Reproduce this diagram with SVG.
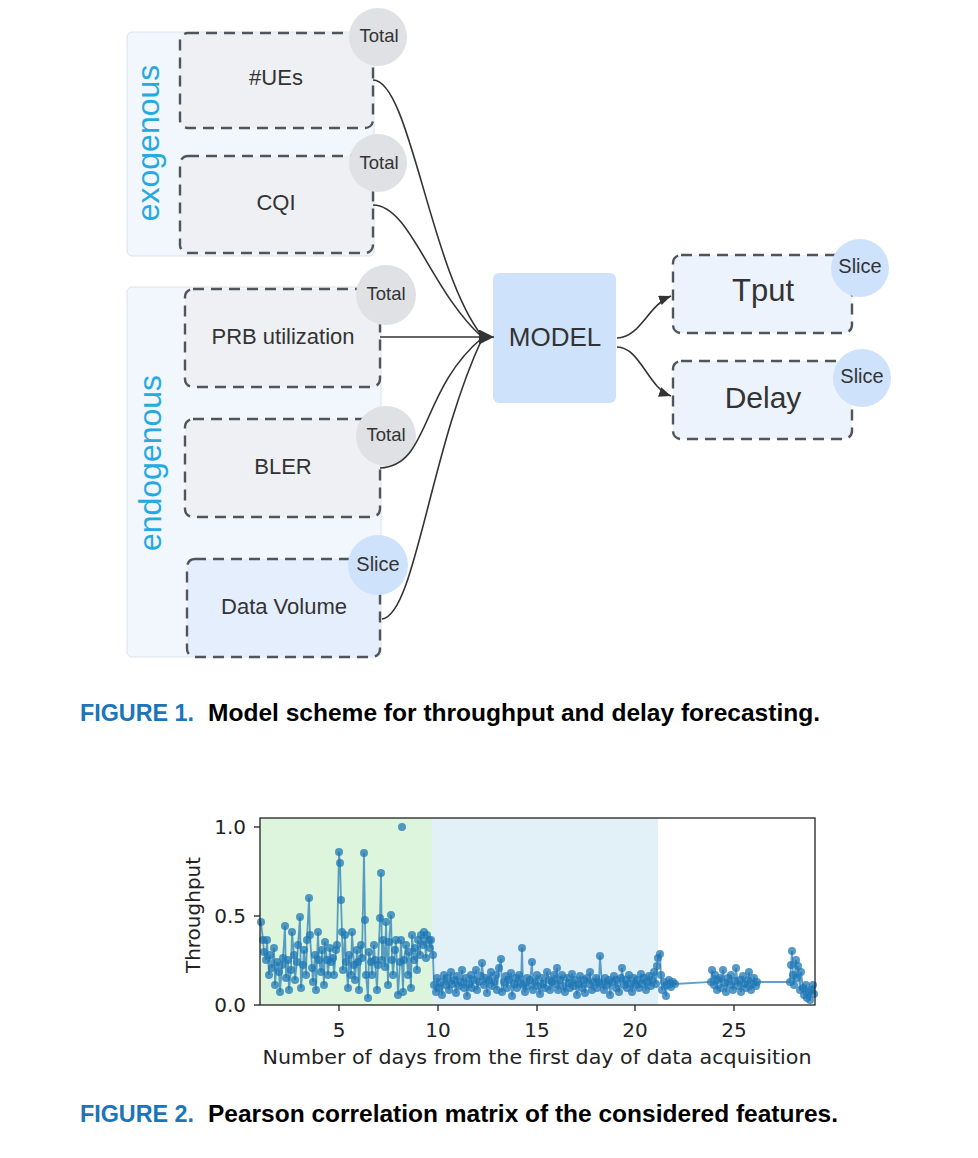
<svg xmlns="http://www.w3.org/2000/svg" width="978" height="1158" viewBox="0 0 978 1158">
<style>
.grp{fill:#f2f6fd;stroke:#dce3ec;stroke-width:1}
.box{stroke:#50545c;stroke-width:2.4;stroke-dasharray:11 7}
.gray{fill:#eef0f4}
.blue{fill:#e5eefc}
.out{fill:#edf3fd}
.tot{fill:#dfe1e5}
.sl{fill:#cfe2fc}
.lbl{font-family:"Liberation Sans",Arial,sans-serif;fill:#333;text-anchor:middle}
.big{font-family:"Liberation Sans",Arial,sans-serif;fill:#26a9e0;text-anchor:middle;font-size:32px}
.con{fill:none;stroke:#333;stroke-width:1.6}
.tk{font-family:"DejaVu Sans",sans-serif;fill:#222;font-size:20px}
.cap{font-family:"Liberation Sans",Arial,sans-serif;font-weight:bold;font-size:24px}
</style>
<defs>
<marker id="ah" markerUnits="userSpaceOnUse" markerWidth="14" markerHeight="12" refX="12" refY="5" orient="auto"><path d="M0,0 L12,5 L0,10 z" fill="#333"/></marker>
<marker id="ahb" markerUnits="userSpaceOnUse" markerWidth="16" markerHeight="16" refX="15" refY="7.5" orient="auto"><path d="M0,0 L15,7.5 L0,15 z" fill="#333"/></marker>
<marker id="dot" markerUnits="userSpaceOnUse" markerWidth="10" markerHeight="10" refX="5" refY="5"><circle cx="5" cy="5" r="4" fill="#1f77b4" fill-opacity="0.75"/></marker>
</defs>
<rect width="978" height="1158" fill="#fff"/>

<g id="exogenous-group">
<rect class="grp" x="127" y="32" width="247" height="224" rx="5"/>
<text class="big" transform="translate(159,143) rotate(-90)">exogenous</text>
</g>
<g id="endogenous-group">
<rect class="grp" x="127" y="287" width="254" height="370" rx="5"/>
<text class="big" transform="translate(161,463) rotate(-90)">endogenous</text>
</g>

<g id="node-ues">
<rect class="box gray" x="180" y="33" width="193" height="95" rx="8"/>
<text class="lbl" x="276" y="85" font-size="22">#UEs</text>
<circle class="tot" cx="378" cy="37" r="29"/>
<text class="lbl" x="379" y="42" font-size="18.5">Total</text>
</g>
<g id="node-cqi">
<rect class="box gray" x="180" y="156" width="193" height="97" rx="8"/>
<text class="lbl" x="276" y="210" font-size="22">CQI</text>
<circle class="tot" cx="378" cy="163" r="29"/>
<text class="lbl" x="379" y="169" font-size="18.5">Total</text>
</g>
<g id="node-prb">
<rect class="box gray" x="185" y="289" width="195" height="98" rx="8"/>
<text class="lbl" x="283" y="344" font-size="22">PRB utilization</text>
<circle class="tot" cx="386" cy="295" r="30"/>
<text class="lbl" x="386" y="300" font-size="18.5">Total</text>
</g>
<g id="node-bler">
<rect class="box gray" x="185" y="419" width="195" height="98" rx="8"/>
<text class="lbl" x="283" y="474" font-size="22">BLER</text>
<circle class="tot" cx="386" cy="436" r="30"/>
<text class="lbl" x="386" y="441" font-size="18.5">Total</text>
</g>
<g id="node-datavolume">
<rect class="box blue" x="187" y="559" width="193" height="98" rx="8"/>
<text class="lbl" x="284" y="614" font-size="22">Data Volume</text>
<circle class="sl" cx="378" cy="565" r="30"/>
<text class="lbl" x="378" y="571" font-size="20">Slice</text>
</g>

<g id="node-model">
<rect x="493" y="273" width="123" height="130" rx="6" fill="#cfe2fc"/>
<text class="lbl" x="555" y="346" font-size="26">MODEL</text>
</g>
<g id="node-tput">
<rect class="box out" x="673" y="255" width="179" height="78" rx="8"/>
<text class="lbl" x="763" y="301" font-size="31">Tput</text>
<circle class="sl" cx="860" cy="268" r="29"/>
<text class="lbl" x="860" y="273" font-size="20">Slice</text>
</g>
<g id="node-delay">
<rect class="box out" x="673" y="361" width="179" height="78" rx="8"/>
<text class="lbl" x="763" y="408" font-size="30">Delay</text>
<circle class="sl" cx="862" cy="378" r="29"/>
<text class="lbl" x="862" y="383" font-size="20">Slice</text>
</g>

<g id="connectors">
<path class="con" d="M373,80 C410,80 430,270 482,336"/>
<path class="con" d="M373,205 C410,205 430,290 482,337"/>
<path class="con" d="M380,468 C430,466 420,390 482,338"/>
<path class="con" d="M382,619 C415,615 430,450 482,339"/>
<path class="con" d="M380,337 L494,337" marker-end="url(#ahb)"/>
<path class="con" d="M617,338 C640,338 648,305 671,296" marker-end="url(#ah)"/>
<path class="con" d="M617,347 C640,347 648,388 671,396" marker-end="url(#ah)"/>
</g>

<g id="caption1">
<text class="cap" x="80" y="721" fill="#1b75bb" textLength="114" lengthAdjust="spacingAndGlyphs">FIGURE 1.</text>
<text class="cap" x="208" y="721" fill="#000" textLength="612" lengthAdjust="spacingAndGlyphs">Model scheme for throughput and delay forecasting.</text>
</g>

<g id="chart">
<rect x="260" y="818" width="172" height="187" fill="#dcf5dc"/>
<rect x="432" y="818" width="226" height="187" fill="#e2f0f7"/>
<polyline fill="none" stroke="#1f77b4" stroke-opacity="0.7" stroke-width="1.8" marker-start="url(#dot)" marker-mid="url(#dot)" marker-end="url(#dot)" points="261,922 263,940 264,952 266,960 267,940 269,975 270,955 272,968 274,948 275,985 277,962 279,972 280,992 282,965 283,958 285,926 286,978 288,960 289,990 291,970 292,932 294,955 295,980 297,962 298,945 300,917 301,988 303,965 304,950 306,975 307,940 309,898 310,935 312,968 313,982 315,955 316,990 318,932 319,960 321,972 322,950 324,985 325,942 327,960 328,975 330,948 331,962 333,958 334,975 336,950 337,945 339,852 340,863 341,900 342,932 343,970 345,935 346,962 348,988 349,955 351,975 352,932 354,965 355,980 357,950 358,962 359,990 361,945 362,958 364,853 365,920 366,975 368,998 369,952 371,962 372,975 374,945 375,960 377,990 378,965 380,918 381,873 382,960 383,940 385,967 386,922 388,985 389,942 391,915 392,960 393,975 395,950 396,940 398,995 400,962 401,940 403,992 404,960 406,945 408,975 409,952 411,988 412,935 414,960 415,948 417,970 418,940 420,955 421,935 423,945 424,932 426,958 427,935 429,940 430,948 431,940 433,955 434,985 436,992 437,978 439,988 441,982 442,995 444,975 446,985 447,978 449,990 451,972 452,984 454,980 456,993 457,976 459,986 461,982 462,970 464,988 466,978 467,996 469,984 471,975 472,988 474,980 476,970 477,990 479,982 481,976 482,963 484,985 486,978 487,993 489,980 491,972 492,986 494,982 496,975 497,990 499,968 501,959 502,992 504,982 506,976 507,988 509,980 511,973 512,996 514,984 516,978 517,988 519,975 521,983 522,948 523,985 525,992 527,978 528,986 530,980 532,962 533,990 535,982 537,975 538,986 540,994 542,978 543,984 545,988 547,972 549,980 550,990 552,982 554,975 555,984 557,968 558,990 560,980 562,975 563,986 565,992 567,978 569,983 570,988 572,974 574,986 575,980 577,995 579,984 580,976 582,988 584,980 585,993 587,978 589,984 590,972 592,990 594,982 596,978 597,988 599,982 600,956 602,984 604,990 605,978 607,985 609,980 610,995 612,982 614,976 616,988 617,980 619,992 621,978 622,968 624,985 626,980 627,988 629,975 631,984 632,992 634,978 636,985 637,980 639,988 641,974 642,984 644,978 646,990 647,982 649,976 651,986 652,980 654,972 656,984 657,966 658,958 660,954 661,975 662,990 664,982 666,996 667,985 669,980 671,987 673,982 675,984 711,982 712,970 714,985 715,975 717,990 718,980 720,978 721,988 723,970 725,983 726,992 728,978 730,985 731,975 733,990 735,981 736,968 738,986 740,980 741,992 743,976 745,984 746,988 748,980 749,972 751,990 752,984 754,978 756,986 757,982 790,982 791,965 792,951 793,975 794,985 796,960 797,978 798,966 800,990 801,972 803,988 804,995 806,985 807,998 809,992 810,1000 811,990 813,985 814,994"/>
<circle cx="402" cy="827" r="4" fill="#1f77b4" fill-opacity="0.75"/>
<rect x="260" y="818" width="555" height="187" fill="none" stroke="#222" stroke-width="1.3"/>
<g stroke="#222" stroke-width="1.3">
<line x1="254" y1="827" x2="260" y2="827"/>
<line x1="254" y1="916" x2="260" y2="916"/>
<line x1="254" y1="1005" x2="260" y2="1005"/>
<line x1="339" y1="1005" x2="339" y2="1011"/>
<line x1="438" y1="1005" x2="438" y2="1011"/>
<line x1="537" y1="1005" x2="537" y2="1011"/>
<line x1="635" y1="1005" x2="635" y2="1011"/>
<line x1="734" y1="1005" x2="734" y2="1011"/>
</g>
<g class="tk" text-anchor="end">
<text x="246" y="834">1.0</text>
<text x="246" y="923">0.5</text>
<text x="246" y="1012">0.0</text>
</g>
<g class="tk" text-anchor="middle">
<text x="339" y="1037">5</text>
<text x="438" y="1037">10</text>
<text x="537" y="1037">15</text>
<text x="635" y="1037">20</text>
<text x="734" y="1037">25</text>
<text x="537" y="1064" textLength="549" lengthAdjust="spacingAndGlyphs">Number of days from the first day of data acquisition</text>
<text transform="translate(200,915) rotate(-90)">Throughput</text>
</g>
</g>

<g id="caption2">
<text class="cap" x="80" y="1122" fill="#1b75bb" textLength="114" lengthAdjust="spacingAndGlyphs">FIGURE 2.</text>
<text class="cap" x="208" y="1122" fill="#000" textLength="630" lengthAdjust="spacingAndGlyphs">Pearson correlation matrix of the considered features.</text>
</g>
</svg>
